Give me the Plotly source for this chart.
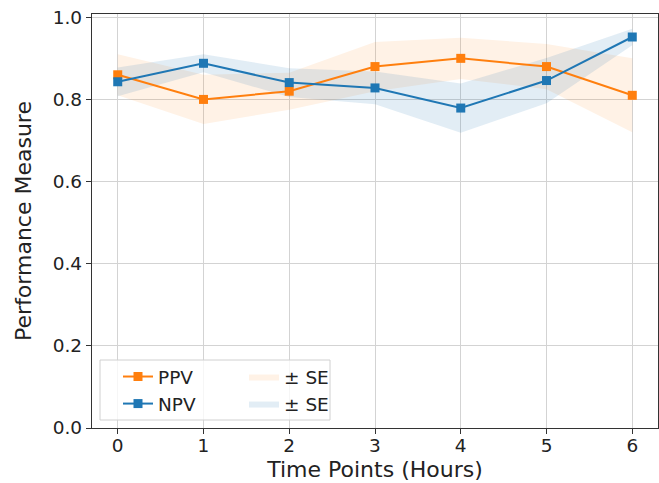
import plotly.graph_objects as go

time_points = [0, 1, 2, 3, 4, 5, 6]
ppv = [0.86, 0.80, 0.82, 0.88, 0.90, 0.88, 0.81]
ppv_se = [0.05, 0.06, 0.045, 0.06, 0.05, 0.055, 0.09]
npv = [0.843, 0.888, 0.841, 0.828, 0.779, 0.846, 0.952]
npv_se = [0.035, 0.022, 0.035, 0.04, 0.06, 0.055, 0.02]
y_ticks = [0.0, 0.2, 0.4, 0.6, 0.8, 1.0]

ORANGE = "#ff7f0e"
BLUE = "#1f77b4"
FONT = "DejaVu Sans"
TXT = "#222222"

fig = go.Figure()

def band(vals, se, color_rgba, rank):
    upper = [v + s for v, s in zip(vals, se)]
    lower = [v - s for v, s in zip(vals, se)]
    xs = list(time_points) + list(reversed(time_points))
    ys = upper + list(reversed(lower))
    fig.add_trace(go.Scatter(x=xs, y=ys, mode="lines",
                             line=dict(width=0), fill="toself",
                             fillcolor=color_rgba, name="± SE",
                             hoverinfo="skip",
                             legend="legend2", legendrank=rank))

band(ppv, ppv_se, "rgba(255,127,14,0.10)", 1)
band(npv, npv_se, "rgba(31,119,180,0.13)", 2)

fig.add_trace(go.Scatter(x=time_points, y=ppv, mode="lines+markers", name="PPV",
                         line=dict(color=ORANGE, width=2),
                         marker=dict(symbol="square", size=9, color=ORANGE),
                         legend="legend", legendrank=1))
fig.add_trace(go.Scatter(x=time_points, y=npv, mode="lines+markers", name="NPV",
                         line=dict(color=BLUE, width=2),
                         marker=dict(symbol="square", size=9, color=BLUE),
                         legend="legend", legendrank=2))

W, H = 659, 483
ml, mr, mt, mb = 92, 1, 14, 55
pw = W - ml - mr
ph = H - mt - mb

def px_x(p):
    return (p - ml) / pw

def px_y(p):
    return (H - mb - p) / ph

# legend frame
fig.add_shape(type="rect", xref="paper", yref="paper",
              x0=px_x(100), x1=px_x(330), y0=px_y(420), y1=px_y(360),
              fillcolor="rgba(255,255,255,0.8)", line=dict(color="#d0d0d0", width=1),
              layer="above")

leg_common = dict(bgcolor="rgba(0,0,0,0)", borderwidth=0,
                  font=dict(family=FONT, size=18.5, color=TXT),
                  xanchor="left", yanchor="top", tracegroupgap=0,
                  traceorder="normal", itemwidth=30)

fig.update_layout(
    width=W, height=H,
    margin=dict(l=ml, r=mr, t=mt, b=mb),
    paper_bgcolor="white", plot_bgcolor="white",
    font=dict(family=FONT, color=TXT),
    showlegend=True,
    legend=dict(x=px_x(118), y=px_y(358), **leg_common),
    legend2=dict(x=px_x(244), y=px_y(358), **leg_common),
    xaxis=dict(range=[-0.3, 6.3], tickvals=time_points,
               showgrid=True, gridcolor="#d3d3d3", gridwidth=1.3,
               showline=True, linecolor="#333333", linewidth=1.3, mirror=True,
               ticks="outside", ticklen=5, tickcolor="#333333",
               ticklabelstandoff=-4,
               tickfont=dict(family=FONT, size=18.5, color=TXT),
               title=dict(text="Time Points (Hours)", standoff=6,
                          font=dict(family=FONT, size=22, color=TXT)),
               zeroline=False),
    yaxis=dict(range=[0, 1.008], tickvals=y_ticks,
               ticktext=[f"{v:.1f}" for v in y_ticks],
               showgrid=True, gridcolor="#d3d3d3", gridwidth=1.3,
               showline=True, linecolor="#333333", linewidth=1.3, mirror=True,
               ticks="outside", ticklen=5, tickcolor="#333333",
               tickfont=dict(family=FONT, size=18.5, color=TXT),
               title=dict(text="Performance Measure", standoff=15,
                          font=dict(family=FONT, size=22, color=TXT)),
               zeroline=False),
)

fig.write_html("out.html", config={"displayModeBar": False},
               post_script="document.body.style.margin='0px';document.body.style.overflow='hidden';")
